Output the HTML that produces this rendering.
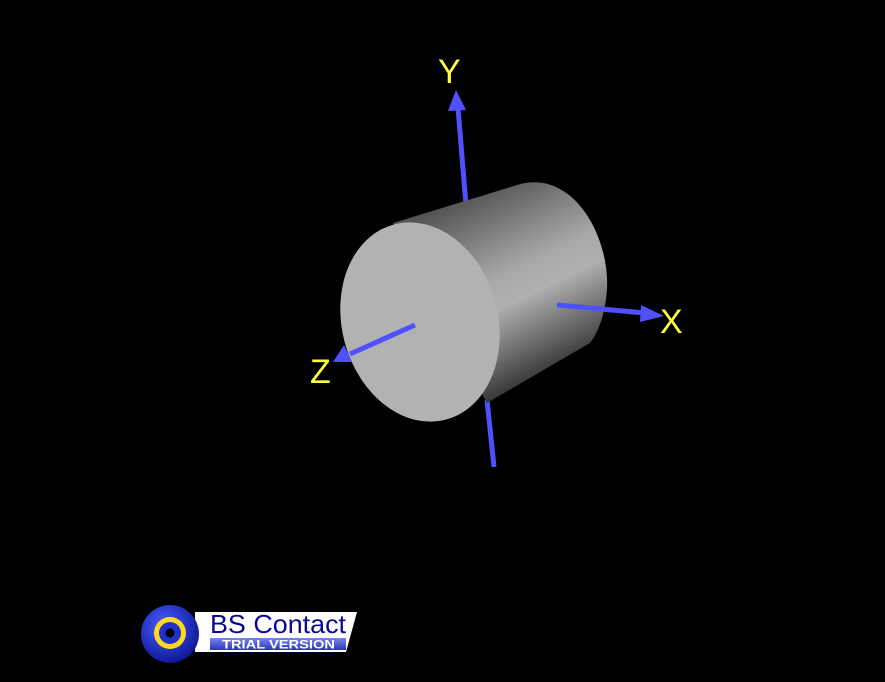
<!DOCTYPE html>
<html><head><meta charset="utf-8"><style>html,body{margin:0;padding:0;background:#000;overflow:hidden}</style></head>
<body>
<svg width="885" height="677" viewBox="0 0 885 677" xmlns="http://www.w3.org/2000/svg">
<defs>
<linearGradient id="body" gradientUnits="userSpaceOnUse" x1="455" y1="202" x2="540" y2="375">
<stop offset="0" stop-color="#555"/><stop offset="0.45" stop-color="#a8a8a8"/><stop offset="0.6" stop-color="#b0b0b0"/><stop offset="1" stop-color="#3a3a3a"/>
</linearGradient>
<radialGradient id="ball" cx="0.4" cy="0.35" r="0.7"><stop offset="0" stop-color="#4a5cff"/><stop offset="1" stop-color="#0a1590"/></radialGradient>
<linearGradient id="bar" x1="0" y1="0" x2="0" y2="1"><stop offset="0" stop-color="#7a86e8"/><stop offset="1" stop-color="#2a36b8"/></linearGradient>
</defs>
<rect width="885" height="677" fill="#000"/>
<line x1="487" y1="400" x2="494" y2="467" stroke="#5050ff" stroke-width="5"/>
<line x1="466" y1="205" x2="458" y2="108" stroke="#5050ff" stroke-width="5"/>
<polygon points="456,90 448,111 466,110" fill="#5050ff"/>
<g>
<path d="M393,223 L517,185 C572,168 610,235 607,290 C605,315 598,333 590,343 L487,403 Z" fill="url(#body)"/>
<ellipse cx="420" cy="322" rx="78" ry="101" transform="rotate(-15 420 322)" fill="#b2b2b2"/>
</g>
<line x1="557" y1="305" x2="645" y2="313" stroke="#5050ff" stroke-width="5"/>
<polygon points="664,316 641,305 640,322" fill="#5050ff"/>
<line x1="415" y1="325" x2="350" y2="354" stroke="#5050ff" stroke-width="5"/>
<polygon points="333,362 344,345 352,362" fill="#5050ff"/>
<g font-family="Liberation Sans, sans-serif" font-size="34" fill="#ffff40">
<text x="438" y="83">Y</text>
<text x="660" y="333">X</text>
<text x="310" y="383">Z</text>
</g>
<g>
<polygon points="195,612 357,612 346,652 195,652" fill="#fff"/>
<circle cx="170" cy="634" r="29" fill="url(#ball)"/>
<circle cx="170" cy="633" r="16" fill="#ffd820"/>
<circle cx="170" cy="633" r="11" fill="#2030c8"/>
<circle cx="170" cy="633" r="4.5" fill="#000"/>
<text x="210" y="633" textLength="136" lengthAdjust="spacingAndGlyphs" font-family="Liberation Sans, sans-serif" font-size="26" fill="#0a0a90">BS Contact</text>
<rect x="210" y="638" width="136" height="12" fill="url(#bar)"/>
<text x="222" y="648.5" textLength="113" lengthAdjust="spacingAndGlyphs" font-family="Liberation Sans, sans-serif" font-size="11.5" font-weight="bold" fill="#fff">TRIAL VERSION</text>
</g>
</svg>
</body></html>
